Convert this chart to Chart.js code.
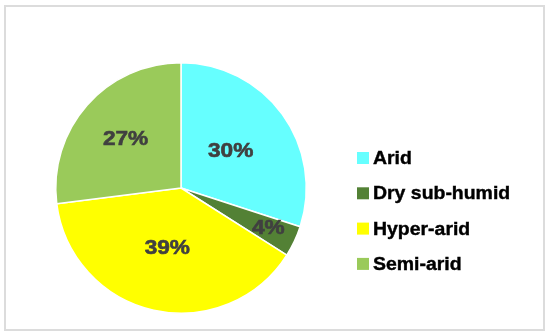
<!DOCTYPE html>
<html>
<head>
<meta charset="utf-8">
<script src="https://cdn.jsdelivr.net/npm/chart.js@4/dist/chart.umd.min.js"></script>
<style>
  html, body { margin: 0; padding: 0; background: #fff; }
  #wrap { position: relative; width: 550px; height: 335px; }
  #frame { position: absolute; left: 4px; top: 5px; width: 537px; height: 322px; border: 2px solid #dcdcdc; box-sizing: content-box; pointer-events: none; }
</style>
</head>
<body>
<div id="wrap">
  <canvas id="c" width="550" height="335"></canvas>
  <div id="frame"></div>
</div>
<script>
const categories = ["Arid", "Dry sub-humid", "Hyper-arid", "Semi-arid"];
const shares = [30, 4, 39, 27];
const sliceColors = ["#66FFFF", "#538135", "#FFFF00", "#9ACA5A"];
const valueLabels = ["30%", "4%", "39%", "27%"];

// per-slice label distance from centre, as a fraction of the radius
const labelRadius = [0.49, 0.77, 0.5, 0.59];

const labelPlugin = {
  id: 'sliceLabels',
  afterDatasetsDraw(chart) {
    const ctx = chart.ctx;
    const meta = chart.getDatasetMeta(0);
    meta.data.forEach((arc, i) => {
      const p = arc.getProps(['x', 'y', 'startAngle', 'endAngle', 'outerRadius'], true);
      const mid = (p.startAngle + p.endAngle) / 2;
      const r = p.outerRadius * labelRadius[i];
      const lx = p.x + Math.cos(mid) * r, ly = p.y + Math.sin(mid) * r;
      ctx.save();
      ctx.translate(lx, ly);
      ctx.scale(1.16, 1);
      ctx.font = 'bold 19.5px "Liberation Sans", Arial, sans-serif';
      ctx.fillStyle = '#404040';
      ctx.strokeStyle = '#404040';
      ctx.lineWidth = 0.6;
      ctx.textAlign = 'center';
      ctx.textBaseline = 'middle';
      ctx.fillText(valueLabels[i], 0, 0);
      ctx.strokeText(valueLabels[i], 0, 0);
      ctx.restore();
    });
  }
};

const legendPlugin = {
  id: 'sideLegend',
  afterDraw(chart) {
    const ctx = chart.ctx;
    const x0 = 357, y0 = 158, step = 35.3, box = 12;
    chart.data.labels.forEach((lab, i) => {
      const y = y0 + i * step;
      ctx.save();
      ctx.fillStyle = chart.data.datasets[0].backgroundColor[i];
      ctx.fillRect(x0, y - box / 2, box, box);
      ctx.translate(x0 + box + 4, y + 1);
      ctx.scale(1.08, 1);
      ctx.font = 'bold 18px "Liberation Sans", Arial, sans-serif';
      ctx.textBaseline = 'middle';
      ctx.textAlign = 'left';
      ctx.fillStyle = '#000';
      ctx.strokeStyle = '#000';
      ctx.lineWidth = 0.4;
      ctx.fillText(lab, 0, 0);
      ctx.strokeText(lab, 0, 0);
      ctx.restore();
    });
  }
};

new Chart(document.getElementById('c'), {
  type: 'pie',
  data: {
    labels: categories,
    datasets: [{
      data: shares,
      backgroundColor: sliceColors,
      borderColor: '#ffffff',
      borderWidth: 1.5
    }]
  },
  options: {
    responsive: false,
    animation: false,
    layout: { padding: { left: 55, top: 62, bottom: 21, right: 243 } },
    plugins: {
      legend: { display: false },
      tooltip: { enabled: false }
    }
  },
  plugins: [labelPlugin, legendPlugin]
});
</script>
</body>
</html>
